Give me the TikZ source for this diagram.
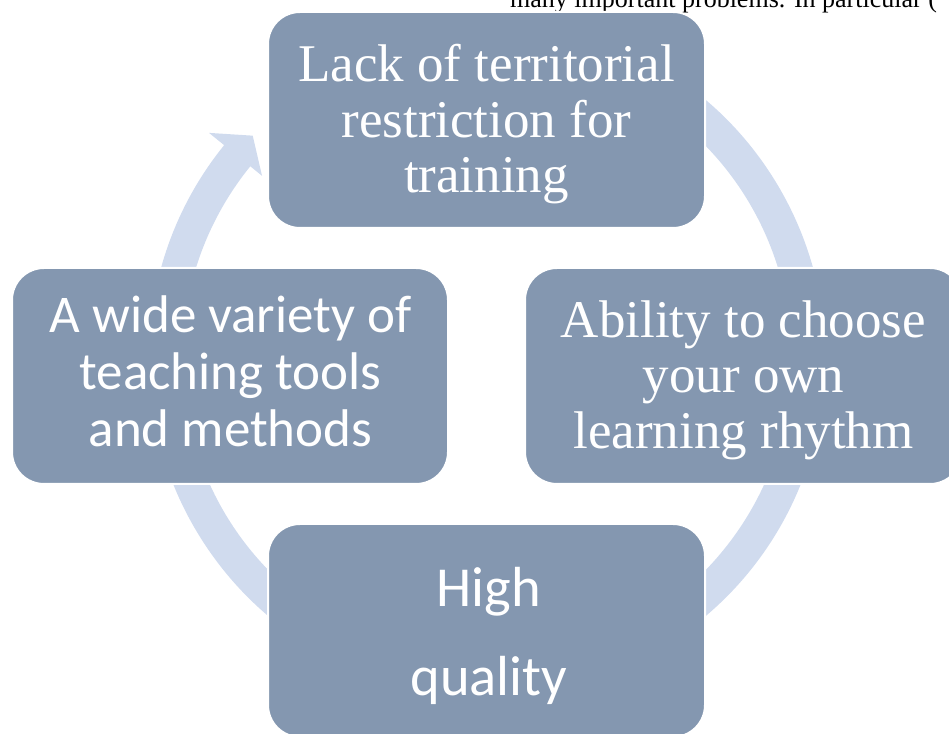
\documentclass[tikz,border=0pt]{standalone}
\usepackage{fontspec}
\setmainfont{Liberation Serif}
\newfontfamily\bodysans{Carlito}
\definecolor{boxfill}{HTML}{8497B0}
\definecolor{ringfill}{HTML}{D0DBEE}
\tikzset{
  stepbox/.style={draw=white, line width=2pt, fill=boxfill, rounded corners=32pt,
    inner sep=0pt},
  serifText/.style={text=white, align=center, inner sep=0pt,
    font=\fontsize{53}{55.5}\selectfont},
  sansText/.style={text=white, align=center, inner sep=0pt,
    font=\bodysans\fontsize{53}{57}\selectfont},
  ring/.style={fill=ringfill, draw=none}
}
\begin{document}
\begin{tikzpicture}[x=1pt, y=1pt]
  \useasboundingbox (0,0) rectangle (949,733);
  \clip (0,0) rectangle (949,733);

  % running text of the page above the figure
  \node[anchor=base west, inner sep=0pt, font=\fontsize{26}{30}\selectfont]
    (note) at (510,725.5) {many important problems. In particular (};

  % cycle ring with arrowhead, behind the boxes
  \begin{scope}[shift={(487,375)}]
    \fill[ring] (141:338.2) -- (141:357.7) -- (136.5:323) -- (141:289.5)
      -- (141:304.6) arc[start angle=141, end angle=480, radius=304.6]
      -- (480:338.2) arc[start angle=480, end angle=141, radius=338.2] -- cycle;
  \end{scope}

  % boxes
  \path (486.5,613) node[stepbox, minimum width=437pt, minimum height=216pt] (boxT) {};
  \path (743.5,357) node[stepbox, minimum width=437pt, minimum height=216pt] (boxR) {};
  \path (486.5,102.5) node[stepbox, minimum width=437pt, minimum height=213pt] (boxB) {};
  \path (230,357) node[stepbox, minimum width=436pt, minimum height=216pt] (boxL) {};

  % labels
  \node[serifText] (txtT) at (486.5,608.75) {Lack of territorial\\restriction for\\training};
  \node[serifText] (txtR) at (743.5,353) {Ability to choose\\your own\\learning rhythm};
  \node[sansText] (txtL) at (230.5,361.25) {A wide variety of\\teaching tools\\and methods};
  \node[sansText, font=\bodysans\fontsize{56.5}{89}\selectfont] (txtB) at (489,97.5) {High\\quality};
\end{tikzpicture}
\end{document}
